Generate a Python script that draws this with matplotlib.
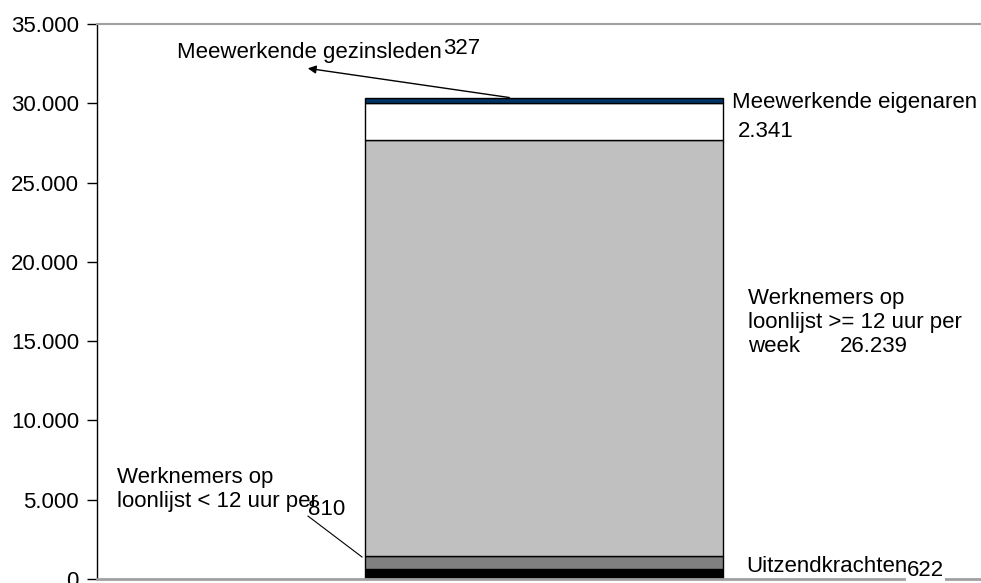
import matplotlib.pyplot as plt

plt.rcParams['font.family'] = ['Liberation Sans', 'DejaVu Sans']

categories = ['Uitzendkrachten',
              'Werknemers op loonlijst < 12 uur per week',
              'Werknemers op loonlijst >= 12 uur per week',
              'Meewerkende eigenaren',
              'Meewerkende gezinsleden']
values = [622, 810, 26239, 2341, 327]
value_labels = ['622', '810', '26.239', '2.341', '327']
colors = ['#000000', '#808080', '#c0c0c0', '#ffffff', '#003366']
yticks = [0, 5000, 10000, 15000, 20000, 25000, 30000, 35000]
ytick_labels = ['0', '5.000', '10.000', '15.000', '20.000', '25.000', '30.000', '35.000']

fig = plt.figure(figsize=(9.81, 5.83), dpi=100)
ax = fig.add_axes([0.0989, 0.0069, 0.9011, 0.9519])

bottom = 0
for v, c in zip(values, colors):
    ax.bar(0, v, width=0.405, bottom=bottom, color=c, edgecolor='black', linewidth=1)
    bottom += v
total = bottom

ax.set_xlim(-0.506, 0.494)
ax.set_ylim(0, 35000)
ax.set_yticks(yticks)
ax.set_yticklabels(ytick_labels, fontsize=16)
ax.set_xticks([])
ax.tick_params(axis='y', length=7, width=1, pad=6)

ax.spines['right'].set_visible(False)
ax.spines['top'].set_color('#a0a0a0')
ax.spines['top'].set_linewidth(1.5)
ax.spines['bottom'].set_color('#a0a0a0')
ax.spines['bottom'].set_linewidth(2)
ax.spines['left'].set_color('black')
ax.spines['left'].set_linewidth(1)

fs = 16
px = 35000 / 556  # data units per pixel


def lines(x, y_first, rows):
    # one text per row, rows 24 px apart
    for i, r in enumerate(rows):
        ax.text(x, y_first - i * 24 * px, r, fontsize=fs, va='center', ha='left')


# top segment with arrow
ax.annotate('', xy=(-0.2707, 32230), xytext=(-0.0365, total),
            arrowprops=dict(arrowstyle='-|>', color='black', lw=1, mutation_scale=12))
ax.text(-0.4155, 33174, 'Meewerkende gezinsleden', fontsize=fs, va='center', ha='left')
ax.text(-0.1146, 33426, value_labels[4], fontsize=fs, va='center', ha='left')

ax.text(0.2123, 30027, 'Meewerkende eigenaren', fontsize=fs, va='center', ha='left')
ax.text(0.2191, 28201, value_labels[3], fontsize=fs, va='center', ha='left')

lines(0.2304, 17688, ['Werknemers op', 'loonlijst >= 12 uur per', 'week'])
ax.text(0.3345, 14667, value_labels[2], fontsize=fs, va='center', ha='left')

lines(-0.4834, 6390, ['Werknemers op', 'loonlijst < 12 uur per'])
ax.plot([-0.2673, -0.2062], [3966, 1385], color='black', lw=0.8)
ax.text(-0.2673, 4406, value_labels[1], fontsize=fs, va='center', ha='left')

ax.text(0.2282, 818, 'Uitzendkrachten', fontsize=fs, va='center', ha='left')
ax.text(0.4103, 504, value_labels[0], fontsize=fs, va='center', ha='left',
        bbox=dict(facecolor='white', edgecolor='none', pad=1), clip_on=False, zorder=5)

fig.savefig('out.png', dpi=100)
